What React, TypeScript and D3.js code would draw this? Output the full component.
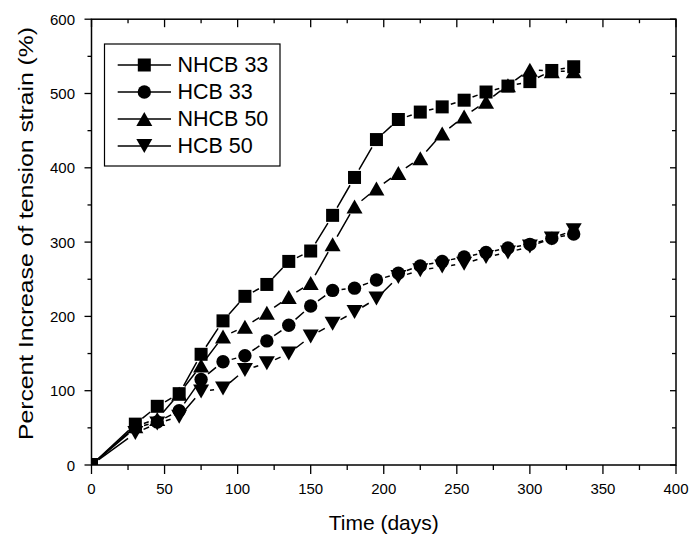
import React from 'react';
import * as d3 from 'd3';

// sampling days (shared by all four series)
const days = [0, 30, 45, 60, 75, 90, 105, 120, 135, 150, 165, 180, 195, 210, 225, 240, 255, 270, 285, 300, 315, 330];

// percent increase of tension strain
const nhcb33 = [0, 55, 79, 96, 149, 194, 227, 243, 274, 288, 336, 387, 438, 465, 475, 482, 491, 502, 510, 516, 531, 536];
const hcb33 = [0, 50, 58, 73, 115, 139, 147, 167, 188, 214, 235, 238, 249, 258, 268, 274, 280, 286, 292, 297, 305, 311];
const nhcb50 = [0, 52, 62, 96, 134, 173, 186, 205, 226, 245, 297, 348, 372, 393, 413, 446, 469, 489, 511, 532, 530, 530];
const hcb50 = [0, 43, 56, 65, 99, 103, 128, 137, 150, 173, 190, 206, 224, 253, 262, 267, 271, 280, 286, 294, 305, 316];

const seriesNames = ['NHCB 33', 'HCB 33', 'NHCB 50', 'HCB 50'];
const seriesValues = [nhcb33, hcb33, nhcb50, hcb50];
const seriesSymbols = ['square', 'circle', 'up', 'down'];

const xMajor = [0, 50, 100, 150, 200, 250, 300, 350, 400];
const xMinor = [25, 75, 125, 175, 225, 275, 325, 375];
const yMajor = [0, 100, 200, 300, 400, 500, 600];
const yMinor = [50, 150, 250, 350, 450, 550];

const W = 692;
const H = 536;
const left = 91.5, right = 676, top = 19.2, bottom = 465;
const font = '"Liberation Sans", Arial, sans-serif';

const x = d3.scaleLinear().domain([0, 400]).range([left, right]);
const y = d3.scaleLinear().domain([0, 600]).range([bottom, top]);

function marker(kind: string, cx: number, cy: number, key: string) {
  if (kind === 'square') {
    return <rect key={key} x={cx - 6.5} y={cy - 6.5} width={13} height={13} fill="#000" />;
  }
  if (kind === 'circle') {
    return <circle key={key} cx={cx} cy={cy} r={6.7} fill="#000" />;
  }
  const w = 8, h = 7;
  const p = kind === 'up'
    ? `M${cx},${cy - h}L${cx + w},${cy + h}L${cx - w},${cy + h}Z`
    : `M${cx},${cy + h}L${cx + w},${cy - h}L${cx - w},${cy - h}Z`;
  return <path key={key} d={p} fill="#000" />;
}

// origin-style line: each segment stops short of the symbols
function gappedSegments(vals: number[], gap: number) {
  const out: string[] = [];
  for (let i = 1; i < vals.length; i++) {
    const x1 = x(days[i - 1]), y1 = y(vals[i - 1]);
    const x2 = x(days[i]), y2 = y(vals[i]);
    const dx = x2 - x1, dy = y2 - y1;
    const len = Math.hypot(dx, dy);
    if (len <= 2 * gap + 0.5) continue;
    const ux = dx / len, uy = dy / len;
    out.push(`M${x1 + ux * gap},${y1 + uy * gap}L${x2 - ux * gap},${y2 - uy * gap}`);
  }
  return out.join('');
}

export default function App() {
  const legendX = 104.5, legendY = 44;
  return (
    <svg width={W} height={H} style={{ position: 'fixed', left: 0, top: 0, background: '#fff' }} fontFamily={font}>
      <defs>
        <clipPath id="plot">
          <rect x={left} y={top} width={right - left} height={bottom - top} />
        </clipPath>
      </defs>
      <rect width={W} height={H} fill="#fff" />

      <g clipPath="url(#plot)">
        {seriesValues.map((vals, s) => (
          <path key={'l' + s} d={gappedSegments(vals, 9)} stroke="#000" strokeWidth={1.5} fill="none" />
        ))}
        {seriesValues.map((vals, s) =>
          vals.map((v, i) => marker(seriesSymbols[s], x(days[i]), y(v), `m${s}-${i}`))
        )}
      </g>

      {/* frame */}
      <rect x={left} y={top} width={right - left} height={bottom - top} fill="none" stroke="#000" strokeWidth={1.5} />

      {/* bottom / top ticks */}
      {xMajor.map(t => (
        <g key={'xm' + t}>
          <line x1={x(t)} x2={x(t)} y1={bottom} y2={bottom + 9} stroke="#000" strokeWidth={1.3} />
          <line x1={x(t)} x2={x(t)} y1={top} y2={top + 8} stroke="#000" strokeWidth={1.3} />
          <text x={x(t)} y={494} fontSize={15} textAnchor="middle">{t}</text>
        </g>
      ))}
      {xMinor.map(t => (
        <g key={'xn' + t}>
          <line x1={x(t)} x2={x(t)} y1={bottom} y2={bottom + 5} stroke="#000" strokeWidth={1.3} />
          <line x1={x(t)} x2={x(t)} y1={top} y2={top + 4} stroke="#000" strokeWidth={1.3} />
        </g>
      ))}

      {/* left / right ticks */}
      {yMajor.map(t => (
        <g key={'ym' + t}>
          <line x1={left - 7} x2={left} y1={y(t)} y2={y(t)} stroke="#000" strokeWidth={1.3} />
          <line x1={right - 6} x2={right} y1={y(t)} y2={y(t)} stroke="#000" strokeWidth={1.3} />
          <text x={75} y={y(t)} fontSize={15} textAnchor="end" dominantBaseline="central">{t}</text>
        </g>
      ))}
      {yMinor.map(t => (
        <g key={'yn' + t}>
          <line x1={left - 4} x2={left} y1={y(t)} y2={y(t)} stroke="#000" strokeWidth={1.3} />
          <line x1={right - 4} x2={right} y1={y(t)} y2={y(t)} stroke="#000" strokeWidth={1.3} />
        </g>
      ))}

      {/* axis titles */}
      <text x={(left + right) / 2} y={530} fontSize={21} textAnchor="middle">Time (days)</text>
      <text
        transform={`translate(33,${(27 + 440) / 2}) rotate(-90)`}
        fontSize={21}
        textAnchor="middle"
        textLength={413}
        lengthAdjust="spacingAndGlyphs"
      >
        Percent Increase of tension strain (%)
      </text>

      {/* legend */}
      <rect x={legendX} y={legendY} width={175.5} height={122} fill="#fff" stroke="#000" strokeWidth={1.2} />
      {seriesNames.map((name, i) => {
        const ly = 65 + i * 27;
        return (
          <g key={'lg' + i}>
            <line x1={117.7} x2={171} y1={ly} y2={ly} stroke="#000" strokeWidth={1.5} />
            {marker(seriesSymbols[i], 144.3, ly, 'lm' + i)}
            <text x={177.5} y={ly} fontSize={21.5} dominantBaseline="central">{name}</text>
          </g>
        );
      })}
    </svg>
  );
}
